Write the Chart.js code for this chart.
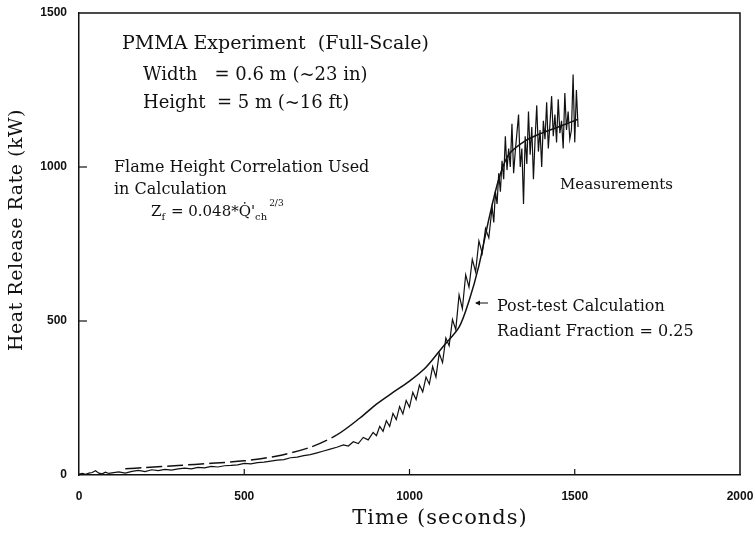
<!DOCTYPE html>
<html>
<head>
<meta charset="utf-8">
<script src="https://cdn.jsdelivr.net/npm/chart.js@4.4.0/dist/chart.umd.min.js"></script>
<style>
  html, body { margin: 0; padding: 0; background: #fff; }
</style>
</head>
<body>
<canvas id="c" width="754" height="533"></canvas>
<script>
var measTime = [0, 10, 20, 30, 40, 50, 60, 70, 80, 90, 100, 120, 140, 160, 180, 200, 220, 240, 260, 280,
    300, 320, 340, 360, 380, 400, 420, 440, 460, 480, 500, 520, 540, 560, 580, 600, 620, 640, 660, 680,
    700, 720, 740, 760, 780, 800, 815, 830, 845, 860, 875, 890, 900, 910, 920, 930, 940, 950, 960, 970,
    980, 990, 1000, 1010, 1020, 1030, 1040, 1050, 1060, 1070, 1080, 1090, 1100, 1110, 1120, 1130, 1140, 1150, 1160, 1170,
    1180, 1190, 1200, 1210, 1220, 1230, 1240, 1250, 1255, 1260, 1265, 1270, 1275, 1280, 1285, 1290, 1295, 1300, 1305, 1310,
    1315, 1320, 1330, 1335, 1340, 1345, 1350, 1355, 1360, 1365, 1370, 1375, 1380, 1385, 1390, 1395, 1400, 1405, 1410, 1415,
    1420, 1425, 1430, 1435, 1440, 1445, 1450, 1455, 1460, 1465, 1470, 1475, 1480, 1485, 1490, 1495, 1500, 1505, 1510];
var measHRR = [3, 5, 2, 6, 8, 14, 6, 4, 9, 5, 7, 10, 6, 12, 15, 11, 17, 14, 18, 16,
    20, 22, 20, 25, 23, 28, 26, 30, 31, 33, 38, 36, 40, 42, 45, 48, 50, 56, 58, 63,
    66, 72, 78, 84, 90, 98, 94, 108, 102, 122, 114, 138, 128, 158, 142, 176, 158, 200, 180, 222,
    198, 242, 220, 268, 245, 292, 270, 318, 295, 352, 318, 395, 365, 445, 420, 505, 472, 585, 540, 650,
    610, 700, 660, 760, 720, 800, 770, 870, 820, 920, 880, 980, 920, 1020, 960, 1100, 990, 1060, 1000, 1140,
    980, 1050, 1170, 1000, 1060, 880, 1100, 1010, 1180, 1040, 1130, 960, 1090, 1200, 1050, 1120, 1000, 1150, 1090, 1210,
    1060, 1140, 1230, 1100, 1170, 1080, 1220, 1110, 1150, 1060, 1240, 1120, 1180, 1090, 1120, 1300, 1080, 1250, 1130];

// post-test calculation, radiant fraction 0.25
var calcTime = [140, 200, 300, 400, 500, 600, 700, 780, 850, 900, 950, 1000, 1050, 1100, 1150, 1180, 1210, 1240, 1270, 1300, 1350, 1400, 1450, 1510];
var calcHRR = [20, 24, 31, 38, 46, 62, 90, 130, 185, 230, 268, 305, 350, 415, 480, 565, 680, 830, 960, 1040, 1085, 1110, 1130, 1155];

var xTicks = [0, 500, 1000, 1500, 2000];
var yTicks = [0, 500, 1000, 1500];

var ink = '#111';
var serif = '"DejaVu Serif", "Liberation Serif", serif';
var tickFont = { family: '"Liberation Sans", sans-serif', size: 12, weight: 'bold' };

function pts(xs, ys) {
    return xs.map(function (x, i) { return { x: x, y: ys[i] }; });
}

// frame, inward ticks and the typed notes of the original figure
var paperPlugin = {
    id: 'paper',
    afterDraw: function (chart) {
        var ctx = chart.ctx;
        var a = chart.chartArea;
        var xs = chart.scales.x, ys = chart.scales.y;

        ctx.save();
        ctx.strokeStyle = ink;
        ctx.lineWidth = 1.5;
        ctx.beginPath();
        ctx.moveTo(a.left, a.top);
        ctx.lineTo(a.right, a.top);
        ctx.lineTo(a.right, a.bottom);
        ctx.stroke();

        ctx.lineWidth = 1.2;
        yTicks.slice(1, -1).forEach(function (v) {
            var y = ys.getPixelForValue(v);
            ctx.beginPath();
            ctx.moveTo(a.left, y);
            ctx.lineTo(a.left + 8, y);
            ctx.stroke();
        });
        xTicks.slice(1, -1).forEach(function (v) {
            var x = xs.getPixelForValue(v);
            ctx.beginPath();
            ctx.moveTo(x, a.bottom);
            ctx.lineTo(x, a.bottom - 6);
            ctx.stroke();
        });

        ctx.fillStyle = ink;
        ctx.textBaseline = 'middle';
        ctx.textAlign = 'left';

        function put(s, x, y, size) {
            ctx.font = size + 'px ' + serif;
            ctx.fillText(s, x, y);
            return x + ctx.measureText(s).width;
        }

        put('PMMA Experiment  (Full-Scale)', 122, 44, 19);
        put('Width   = 0.6 m (~23 in)', 143, 75, 18);
        put('Height  = 5 m (~16 ft)', 143, 103, 18);
        put('Flame Height Correlation Used', 114, 168, 16);
        put('in Calculation', 114, 190, 16);

        // Z_f = 0.048*Qdot'_ch^(2/3)
        var cx = put('Z', 151, 212, 15);
        cx = put('f', cx, 217, 10);
        cx = put(' = 0.048*Q\u0307\'', cx + 1, 212, 15);
        cx = put('ch', cx, 217, 10);
        put('2/3', cx + 2, 204, 9);

        put('Measurements', 560, 185, 15);
        put('Post-test Calculation', 497, 307, 16);
        put('Radiant Fraction = 0.25', 497, 332, 16);

        // small arrow pointing at the calculation curve
        ctx.lineWidth = 1;
        ctx.beginPath();
        ctx.moveTo(488, 303);
        ctx.lineTo(476, 303);
        ctx.stroke();
        ctx.beginPath();
        ctx.moveTo(475, 303);
        ctx.lineTo(480, 300.5);
        ctx.lineTo(480, 305.5);
        ctx.closePath();
        ctx.fill();

        // axis titles
        ctx.textAlign = 'center';
        ctx.font = '21px ' + serif;
        ctx.letterSpacing = '1px';
        ctx.fillText('Time (seconds)', 440, 519);
        ctx.translate(17, 230);
        ctx.rotate(-Math.PI / 2);
        ctx.font = '19px ' + serif;
        ctx.letterSpacing = '0.5px';
        ctx.fillText('Heat Release Rate (kW)', 0, 0);
        ctx.restore();
    }
};

new Chart(document.getElementById('c'), {
    type: 'line',
    data: {
        datasets: [{
            label: 'Measurements',
            data: pts(measTime, measHRR),
            borderColor: ink,
            borderWidth: 1.2,
            pointRadius: 0,
            tension: 0
        }, {
            label: 'Post-test Calculation',
            data: pts(calcTime, calcHRR),
            borderColor: ink,
            borderWidth: 1.5,
            pointRadius: 0,
            tension: 0.3,
            segment: {
                borderDash: function (c) { return c.p1.parsed.x <= 800 ? [16, 5] : undefined; }
            }
        }]
    },
    options: {
        responsive: false,
        animation: false,
        devicePixelRatio: 1,
        layout: { padding: { top: 13, right: 14, left: 0, bottom: 0 } },
        plugins: { legend: { display: false }, tooltip: { enabled: false } },
        scales: {
            x: {
                type: 'linear',
                min: 0, max: 2000,
                afterFit: function (s) { s.height = 58; s.paddingLeft = 0; s.paddingRight = 0; },
                afterBuildTicks: function (s) { s.ticks = xTicks.map(function (v) { return { value: v }; }); },
                grid: { display: false, drawTicks: false },
                border: { display: true, color: ink, width: 1.5 },
                ticks: { color: ink, padding: 14, maxRotation: 0, font: tickFont,
                    callback: function (v) { return String(v); } }
            },
            y: {
                min: 0, max: 1500,
                afterFit: function (s) { s.width = 79; s.paddingTop = 0; s.paddingBottom = 0; },
                afterBuildTicks: function (s) { s.ticks = yTicks.map(function (v) { return { value: v }; }); },
                grid: { display: false, drawTicks: false },
                border: { display: true, color: ink, width: 1.5 },
                ticks: { color: ink, padding: 12, font: tickFont,
                    callback: function (v) { return String(v); } }
            }
        }
    },
    plugins: [paperPlugin]
});
</script>
</body>
</html>
